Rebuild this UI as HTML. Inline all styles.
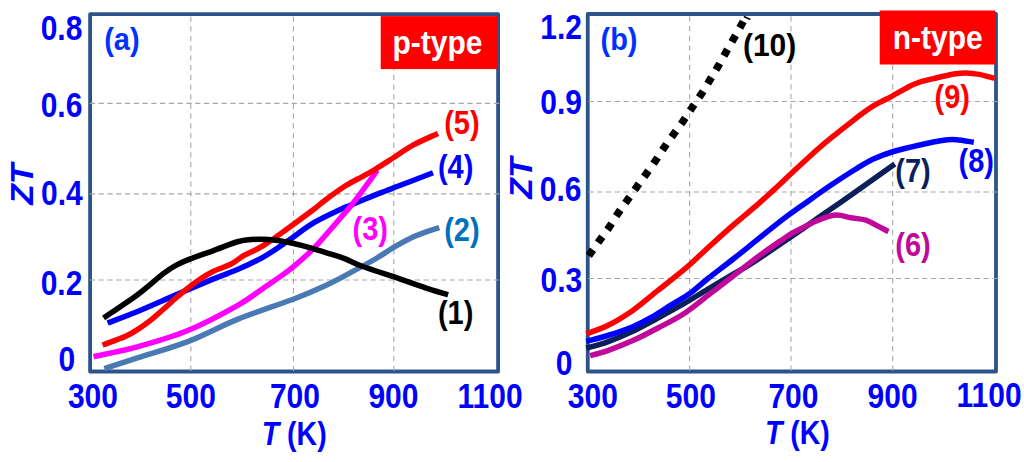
<!DOCTYPE html>
<html lang="en"><head><meta charset="utf-8"><title>ZT vs T</title>
<style>html,body{margin:0;padding:0;background:#fff;}svg{display:block;}text{font-family:"Liberation Sans",Arial,sans-serif;font-weight:bold;}.g{stroke:#A8A8A8;stroke-width:1.1;fill:none;}.gh{stroke-dasharray:5.3 3.48;}.gv{stroke-dasharray:5.3 4.4;stroke-dashoffset:7.4;}.c{fill:none;stroke-width:5.5;stroke-linecap:butt;stroke-linejoin:round;}.f{fill:none;stroke:#2C548B;stroke-width:3.8;stroke-linejoin:round;}</style></head><body>
<svg width="1024" height="462" viewBox="0 0 1024 462">
<rect x="0" y="0" width="1024" height="462" fill="#ffffff"/>
<rect class="f" x="90.10" y="14.20" width="408.00" height="357.30"/>
<g id="grid-a">
<line class="g gv" x1="190.8" y1="14.2" x2="190.8" y2="372.7"/>
<line class="g gv" x1="293.4" y1="14.2" x2="293.4" y2="372.7"/>
<line class="g gv" x1="393.8" y1="14.2" x2="393.8" y2="372.7"/>
<line class="g gh" x1="89.8" y1="103.4" x2="499.1" y2="103.4"/>
<line class="g gh" x1="89.8" y1="193.9" x2="499.1" y2="193.9"/>
<line class="g gh" x1="89.8" y1="280.0" x2="499.1" y2="280.0"/>
</g>
<rect x="380.7" y="16.1" width="117" height="53" fill="#FF0000"/>
<path id="c2" class="c" stroke="#4A7AB4" d="M104.3 368.7 C109.9 366.9 124.2 362.2 138.2 357.7 C152.2 353.1 171.7 347.9 188.4 341.4 C205.1 334.9 221.0 325.9 238.6 318.9 C256.2 311.8 279.4 304.5 293.8 299.0 C308.2 293.5 315.7 290.2 325.1 285.8 C334.5 281.4 341.8 277.3 350.2 272.8 C358.6 268.3 367.8 263.4 375.3 259.0 C382.8 254.6 389.1 250.1 395.4 246.4 C401.7 242.8 408.0 239.5 413.0 237.1 C418.0 234.7 421.1 233.7 425.5 232.1 C429.9 230.5 437.0 228.3 439.3 227.6"/>
<path id="c4" class="c" stroke="#0000FF" d="M107.6 323.0 C112.7 321.0 126.8 315.9 138.2 311.2 C149.6 306.5 163.3 300.3 175.9 294.9 C188.5 289.5 203.1 283.2 213.5 278.9 C223.9 274.6 230.2 272.8 238.6 269.1 C247.0 265.4 255.3 261.5 263.7 256.8 C272.1 252.0 280.4 246.0 288.8 240.3 C297.2 234.6 304.7 228.1 313.9 222.7 C323.1 217.3 337.9 210.6 344.0 207.7 C350.1 204.8 345.0 207.5 350.2 205.4 C355.4 203.3 366.9 198.2 375.3 194.9 C383.7 191.6 390.8 189.0 400.4 185.3 C410.0 181.6 427.6 174.9 433.0 172.8"/>
<path id="c3" class="c" stroke="#FF00FF" d="M93.5 356.6 C101.0 354.9 122.4 351.0 138.2 346.6 C154.0 342.2 171.7 337.3 188.4 330.3 C205.1 323.3 226.1 311.9 238.6 304.8 C251.1 297.8 255.3 293.7 263.7 288.0 C272.1 282.3 281.7 275.8 288.8 270.4 C295.9 265.0 301.4 259.9 306.4 255.3 C311.4 250.7 312.6 249.7 318.9 242.8 C325.2 235.9 337.9 221.0 344.0 213.9 C350.1 206.8 349.6 207.7 355.2 200.4 C360.8 193.1 373.6 175.3 377.3 170.3"/>
<path id="c5" class="c" stroke="#FF0000" d="M102.6 345.1 C106.4 343.6 119.8 339.0 125.7 336.3 C131.6 333.6 134.0 331.8 138.2 329.1 C142.4 326.4 146.6 323.4 150.8 320.1 C155.0 316.8 159.1 313.0 163.3 309.3 C167.5 305.6 171.7 301.6 175.9 298.0 C180.1 294.4 184.2 290.9 188.4 287.7 C192.6 284.4 196.8 281.2 201.0 278.5 C205.2 275.8 208.5 273.6 213.5 271.2 C218.5 268.8 226.1 266.6 231.1 264.0 C236.1 261.4 238.2 258.8 243.6 255.7 C249.0 252.6 256.2 250.1 263.7 245.4 C271.2 240.8 280.4 233.7 288.8 227.7 C297.2 221.7 307.8 213.9 313.9 209.3 C319.9 204.7 319.9 204.1 325.1 200.2 C330.3 196.3 338.9 190.0 345.2 186.0 C351.5 182.0 357.8 179.1 362.8 176.3 C367.8 173.5 369.9 172.6 375.3 169.3 C380.7 166.0 389.1 160.5 395.4 156.5 C401.7 152.5 405.9 149.0 413.0 145.2 C420.1 141.3 433.8 135.4 438.0 133.4"/>
<path id="c1" class="c" stroke="#000000" d="M103.6 318.0 C109.4 314.0 128.2 301.6 138.2 294.2 C148.1 286.8 157.0 278.4 163.3 273.6 C169.6 268.8 171.7 267.6 175.9 265.3 C180.1 263.0 182.1 262.1 188.4 259.6 C194.7 257.2 205.1 253.6 213.5 250.6 C221.9 247.6 231.1 243.4 238.6 241.5 C246.1 239.6 252.4 239.4 258.7 239.2 C265.0 239.0 269.2 239.3 276.3 240.3 C283.4 241.3 293.0 243.2 301.4 245.3 C309.8 247.4 319.4 250.6 326.5 252.8 C333.6 255.0 337.9 256.1 344.0 258.4 C350.1 260.7 353.4 263.1 362.8 266.5 C372.2 269.9 389.9 275.5 400.4 279.1 C410.8 282.7 417.6 285.3 425.5 287.9 C433.4 290.5 444.3 293.7 448.1 294.9"/>
<rect class="f" x="587.75" y="14.00" width="408.25" height="357.50"/>
<g id="grid-b">
<line class="g gv" x1="689.6" y1="14.0" x2="689.6" y2="372.7"/>
<line class="g gv" x1="791.0" y1="14.0" x2="791.0" y2="372.7"/>
<line class="g gv" x1="892.7" y1="14.0" x2="892.7" y2="372.7"/>
<line class="g gh" x1="588.4" y1="101.5" x2="997.0" y2="101.5"/>
<line class="g gh" x1="588.4" y1="192.0" x2="997.0" y2="192.0"/>
<line class="g gh" x1="588.4" y1="278.5" x2="997.0" y2="278.5"/>
</g>
<clipPath id="clipb"><rect x="586.0" y="15.8" width="408.2" height="357.5"/></clipPath>
<path id="c10" clip-path="url(#clipb)" fill="none" stroke="#000" stroke-width="7.6" stroke-dasharray="7.4 8.7" stroke-dashoffset="3.95" d="M581.6 265.7 C583.1 263.6 587.7 257.1 590.8 252.8 C593.9 248.5 597.0 244.0 600.1 239.7 C603.2 235.4 606.4 231.3 609.4 226.9 C612.4 222.5 615.0 217.8 618.0 213.4 C621.0 209.0 624.1 204.8 627.2 200.4 C630.3 196.1 633.4 191.7 636.5 187.3 C639.6 182.9 643.0 178.4 646.1 174.0 C649.2 169.6 652.3 165.4 655.3 161.0 C658.3 156.6 661.1 152.1 664.1 147.7 C667.1 143.3 670.2 139.0 673.4 134.6 C676.5 130.2 679.9 125.8 683.0 121.3 C686.1 116.8 689.2 112.0 692.2 107.5 C695.2 103.0 698.3 98.7 701.3 94.1 C704.3 89.5 707.2 84.5 710.0 79.8 C712.8 75.1 715.6 70.6 718.3 66.0 C720.9 61.4 723.3 56.9 725.9 52.3 C728.5 47.6 731.3 42.9 734.0 38.1 C736.7 33.4 739.4 28.6 742.0 23.8 C744.6 19.1 748.5 12.0 749.8 9.6"/>
<rect x="879.7" y="10.5" width="115.5" height="54" fill="#FF0000"/>
<line x1="743.8" y1="16.5" x2="750.3" y2="19.5" stroke="#000" stroke-width="1.7"/>
<path id="c7" class="c" stroke="#0B1F5B" d="M586.3 348.1 C589.9 347.1 600.0 344.6 607.7 341.8 C615.5 339.0 624.4 335.3 632.8 331.3 C641.2 327.3 649.5 322.5 657.9 318.0 C666.3 313.5 674.6 309.0 683.0 304.2 C691.4 299.4 699.6 294.1 708.0 289.1 C716.4 284.1 726.1 278.2 733.2 274.0 C740.3 269.8 740.2 270.8 750.7 264.0 C761.2 257.2 784.2 241.5 795.9 233.5 C807.6 225.5 812.8 221.5 820.7 216.0 C828.6 210.5 835.3 205.9 843.3 200.4 C851.2 194.9 859.8 188.9 868.4 182.8 C877.0 176.7 890.4 167.1 894.8 164.0"/>
<path id="c6" class="c" stroke="#C0089A" d="M590.1 355.6 C593.0 354.8 600.6 353.1 607.7 350.6 C614.8 348.1 624.4 344.4 632.8 340.6 C641.2 336.8 649.5 332.4 657.9 328.0 C666.3 323.6 674.6 319.6 683.0 314.2 C691.4 308.8 699.6 301.8 708.0 295.4 C716.4 289.0 724.8 282.5 733.2 276.0 C741.6 269.5 749.9 262.7 758.3 256.5 C766.7 250.3 777.6 242.9 783.4 238.9 C789.2 234.9 787.3 235.8 793.1 232.7 C798.9 229.6 811.1 223.1 818.2 220.2 C825.3 217.3 830.4 215.5 835.8 215.1 C841.2 214.7 845.8 216.8 850.8 217.7 C855.8 218.5 861.3 218.8 865.9 220.2 C870.5 221.6 874.6 224.5 878.4 226.4 C882.2 228.3 886.8 230.7 888.5 231.5"/>
<path id="c8" class="c" stroke="#0000FF" d="M586.3 341.3 C589.9 340.3 600.0 337.9 607.7 335.5 C615.5 333.1 625.7 329.6 632.8 326.7 C639.9 323.8 644.0 321.6 650.3 318.0 C656.6 314.4 663.7 309.6 670.4 305.4 C677.1 301.2 684.2 297.4 690.5 292.9 C696.8 288.4 700.9 284.1 708.0 278.5 C715.1 272.9 724.8 265.6 733.2 259.0 C741.6 252.4 749.9 245.6 758.3 238.9 C766.7 232.2 775.5 224.9 783.4 218.9 C791.3 212.9 797.7 208.5 805.6 202.9 C813.5 197.3 822.3 191.0 830.7 185.3 C839.1 179.7 848.8 173.4 855.9 169.0 C863.0 164.6 867.1 161.9 873.4 159.0 C879.7 156.1 886.0 153.8 893.5 151.5 C901.0 149.2 910.2 147.1 918.6 145.2 C927.0 143.3 937.4 141.1 943.7 140.2 C950.0 139.3 951.3 139.4 956.3 139.7 C961.3 140.0 970.9 141.8 973.8 142.2"/>
<path id="c9" class="c" stroke="#FF0000" d="M586.3 333.8 C589.9 332.4 600.0 329.4 607.7 325.5 C615.5 321.6 624.4 316.2 632.8 310.4 C641.2 304.5 650.8 296.0 657.9 290.4 C665.0 284.8 670.0 281.0 675.4 276.6 C680.8 272.2 685.1 268.8 690.5 264.0 C695.9 259.2 700.9 254.2 708.0 247.7 C715.1 241.2 724.8 232.4 733.2 225.1 C741.6 217.8 751.4 209.9 758.3 203.9 C765.2 197.9 768.8 194.4 774.6 189.1 C780.4 183.8 785.8 178.5 793.1 171.8 C800.4 165.1 811.2 155.0 818.2 148.8 C825.2 142.6 829.2 139.5 835.0 134.8 C840.8 130.1 847.7 124.7 852.7 120.8 C857.7 116.9 861.1 114.4 865.0 111.6 C868.9 108.8 871.7 106.8 876.3 104.2 C880.9 101.6 887.0 98.8 892.6 95.8 C898.2 92.8 905.8 88.2 910.2 86.0 C914.6 83.8 914.8 83.6 919.0 82.3 C923.2 81.0 929.4 79.6 935.3 78.2 C941.1 76.8 948.9 74.9 954.1 74.0 C959.3 73.1 962.5 72.8 966.7 72.9 C970.9 73.0 975.7 73.8 979.2 74.4 C982.8 75.0 985.4 75.9 988.0 76.6 C990.6 77.3 993.8 78.1 995.0 78.4"/>
<text id="t0" transform="translate(61.5,40.1) scale(1,1.18)" font-size="30" fill="#0000FF" text-anchor="middle">0.8</text>
<text id="t1" transform="translate(61.5,117.0) scale(1,1.18)" font-size="30" fill="#0000FF" text-anchor="middle">0.6</text>
<text id="t2" transform="translate(61.8,204.5) scale(1,1.18)" font-size="30" fill="#0000FF" text-anchor="middle">0.4</text>
<text id="t3" transform="translate(61.5,294.9) scale(1,1.18)" font-size="30" fill="#0000FF" text-anchor="middle">0.2</text>
<text id="t4" transform="translate(66.8,371.0) scale(1,1.18)" font-size="30" fill="#0000FF" text-anchor="middle">0</text>
<text id="t5" transform="translate(92.9,408.0) scale(1,1.18)" font-size="30" fill="#0000FF" text-anchor="middle">300</text>
<text id="t6" transform="translate(190.8,408.0) scale(1,1.18)" font-size="30" fill="#0000FF" text-anchor="middle">500</text>
<text id="t7" transform="translate(294.9,408.0) scale(1,1.18)" font-size="30" fill="#0000FF" text-anchor="middle">700</text>
<text id="t8" transform="translate(393.4,408.0) scale(1,1.18)" font-size="30" fill="#0000FF" text-anchor="middle">900</text>
<text id="t9" transform="translate(490.1,408.0) scale(1,1.18)" font-size="30" fill="#0000FF" text-anchor="middle">1100</text>
<text id="t10" transform="translate(121.9,50.0) scale(1,1.11)" font-size="29" fill="#0032FF" text-anchor="middle">(a)</text>
<text id="t11" transform="translate(437.5,54.0) scale(1,1.1)" font-size="30" fill="#FFFFFF" text-anchor="middle">p-type</text>
<text id="t12" transform="translate(461.9,133.7) scale(1,1.15)" font-size="29" fill="#FF0000" text-anchor="middle">(5)</text>
<text id="t13" transform="translate(455.6,177.8) scale(1,1.15)" font-size="29" fill="#0000FF" text-anchor="middle">(4)</text>
<text id="t14" transform="translate(370.3,240.0) scale(1,1.15)" font-size="29" fill="#FF00FF" text-anchor="middle">(3)</text>
<text id="t15" transform="translate(461.9,241.4) scale(1,1.15)" font-size="29" fill="#0070C0" text-anchor="middle">(2)</text>
<text id="t16" transform="translate(455.6,324.0) scale(1,1.15)" font-size="29" fill="#000000" text-anchor="middle">(1)</text>
<text id="t17" transform="translate(561.1,38.5) scale(1,1.18)" font-size="30" fill="#0000FF" text-anchor="middle">1.2</text>
<text id="t18" transform="translate(561.1,114.2) scale(1,1.18)" font-size="30" fill="#0000FF" text-anchor="middle">0.9</text>
<text id="t19" transform="translate(560.6,201.2) scale(1,1.18)" font-size="30" fill="#0000FF" text-anchor="middle">0.6</text>
<text id="t20" transform="translate(561.3,292.3) scale(1,1.18)" font-size="30" fill="#0000FF" text-anchor="middle">0.3</text>
<text id="t21" transform="translate(564.2,375.1) scale(1,1.18)" font-size="30" fill="#0000FF" text-anchor="middle">0</text>
<text id="t22" transform="translate(592.8,408.0) scale(1,1.18)" font-size="30" fill="#0000FF" text-anchor="middle">300</text>
<text id="t23" transform="translate(690.8,408.0) scale(1,1.18)" font-size="30" fill="#0000FF" text-anchor="middle">500</text>
<text id="t24" transform="translate(793.4,408.0) scale(1,1.18)" font-size="30" fill="#0000FF" text-anchor="middle">700</text>
<text id="t25" transform="translate(892.6,408.0) scale(1,1.18)" font-size="30" fill="#0000FF" text-anchor="middle">900</text>
<text id="t26" transform="translate(989.1,406.5) scale(1,1.18)" font-size="30" fill="#0000FF" text-anchor="middle">1100</text>
<text id="t27" transform="translate(619.0,50.0) scale(1,1.11)" font-size="29" fill="#0032FF" text-anchor="middle">(b)</text>
<text id="t28" transform="translate(937.7,48.9) scale(1,1.1)" font-size="30" fill="#FFFFFF" text-anchor="middle">n-type</text>
<text id="t29" transform="translate(769.6,56.0) scale(1,1.07)" font-size="30" fill="#000000" text-anchor="middle">(10)</text>
<text id="t30" transform="translate(952.2,107.9) scale(1,1.12)" font-size="29" fill="#FF0000" text-anchor="middle">(9)</text>
<text id="t31" transform="translate(976.3,172.0) scale(1,1.15)" font-size="29" fill="#0000FF" text-anchor="middle">(8)</text>
<text id="t32" transform="translate(913.0,181.6) scale(1,1.15)" font-size="29" fill="#0B1F5B" text-anchor="middle">(7)</text>
<text id="t33" transform="translate(913.0,256.0) scale(1,1.15)" font-size="29" fill="#C0089A" text-anchor="middle">(6)</text>
<text id="xa" transform="translate(294.2,444.9) scale(1,1.18)" font-size="28.5" fill="#0000FF" text-anchor="middle"><tspan font-style="italic">T</tspan> (K)</text>
<text id="xb" transform="translate(797.4,443.9) scale(1,1.18)" font-size="28.5" fill="#0000FF" text-anchor="middle"><tspan font-style="italic">T</tspan> (K)</text>
<text id="ya" transform="translate(33.3,184.2) rotate(-90) scale(1.125,1.05)" font-size="30" font-style="italic" fill="#0000FF" text-anchor="middle">ZT</text>
<text id="yb" transform="translate(531.6,178.1) rotate(-90) scale(1.125,1.05)" font-size="30" font-style="italic" fill="#0000FF" text-anchor="middle">ZT</text>
</svg></body></html>
